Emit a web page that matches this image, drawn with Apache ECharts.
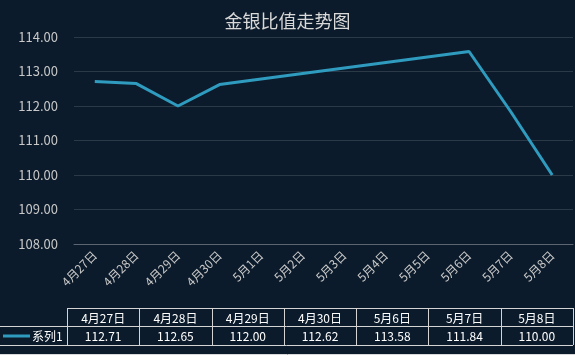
<!DOCTYPE html>
<html lang="zh">
<head>
<meta charset="UTF-8" />
<title>金银比值走势图</title>
</head>
<body>
<style>
* {
  margin: 0;
  padding: 0;
}
body {
  background: #0c1b2b;
}
#chartEl {
  width: 575px;
  height: 355px;
}
</style>
<div id="chartEl"></div>
<script src="https://cdn.jsdelivr.net/npm/echarts@6/dist/echarts.min.js"></script>
<script>
// 数据
const categories = ['4月27日', '4月28日', '4月29日', '4月30日', '5月1日', '5月2日', '5月3日', '5月4日', '5月5日', '5月6日', '5月7日', '5月8日'];
const ratioValues = [112.71, 112.65, 112.00, 112.62, null, null, null, null, null, 113.58, 111.84, 110.00];
const seriesName = '系列1';
const yTicks = [108, 114, 1]; // min, max, interval

const FONT = '"Noto Sans CJK SC", "Noto Sans", sans-serif';
const lineColor = '#2f9bbf';
const W = 575;

// 数据表 (只有有值的日期)
const tableCols = [];
categories.forEach(function (c, i) {
  if (ratioValues[i] != null) tableCols.push({ name: c, value: ratioValues[i].toFixed(2) });
});

function buildTable() {
  const els = [];
  const x0 = 67, x1 = 573;
  const yTop = 308, yMid = 326, yBot = 345;
  const colW = (x1 - x0) / tableCols.length;
  const stroke = { stroke: '#d4d4d4', lineWidth: 1 };
  els.push({ type: 'line', shape: { x1: x0, y1: yTop + 0.5, x2: x1, y2: yTop + 0.5 }, style: stroke, silent: true });
  els.push({ type: 'line', shape: { x1: 0, y1: yMid + 0.5, x2: x1, y2: yMid + 0.5 }, style: stroke, silent: true });
  els.push({ type: 'line', shape: { x1: 0, y1: yBot + 0.5, x2: x1, y2: yBot + 0.5 }, style: stroke, silent: true });
  for (let i = 0; i <= tableCols.length; i++) {
    const x = Math.round(x0 + colW * i) + 0.5;
    els.push({ type: 'line', shape: { x1: x, y1: yTop, x2: x, y2: yBot }, style: stroke, silent: true });
  }
  tableCols.forEach(function (col, i) {
    const cx = x0 + colW * (i + 0.5);
    els.push({ type: 'text', x: cx, y: (yTop + yMid) / 2 + 1, style: { text: col.name, fill: '#ffffff', font: '12px ' + FONT, align: 'center', verticalAlign: 'middle' }, silent: true });
    els.push({ type: 'text', x: cx, y: (yMid + yBot) / 2 + 1, style: { text: col.value, fill: '#ffffff', font: '12px ' + FONT, align: 'center', verticalAlign: 'middle' }, silent: true });
  });
  // 图例键
  els.push({ type: 'line', shape: { x1: 3, y1: 336, x2: 30, y2: 336 }, style: { stroke: lineColor, lineWidth: 3 }, silent: true });
  els.push({ type: 'text', x: 32, y: 336, style: { text: seriesName, fill: '#ffffff', font: '12px ' + FONT, align: 'left', verticalAlign: 'middle' }, silent: true });
  // 外框底线
  els.push({ type: 'line', shape: { x1: 0, y1: 354.5, x2: W, y2: 354.5 }, style: { stroke: '#d9d9d9', lineWidth: 1 }, silent: true });
  return els;
}

const myChart = echarts.init(document.getElementById('chartEl'));
myChart.setOption({
  backgroundColor: '#0c1b2b',
  animation: false,
  textStyle: { fontFamily: FONT },
  title: {
    text: '金银比值走势图',
    left: 'center',
    top: 7,
    textStyle: { color: '#d9d9d9', fontSize: 18, fontWeight: 'normal', fontFamily: FONT },
  },
  grid: { left: 74, right: 2, top: 37, bottom: 111 },
  xAxis: {
    type: 'category',
    data: categories,
    boundaryGap: true,
    axisTick: { show: false },
    axisLine: { lineStyle: { color: '#5b6672', width: 1 } },
    axisLabel: { color: '#c8c8c8', fontSize: 12, rotate: 45, interval: 0, margin: 9, fontFamily: FONT },
  },
  yAxis: {
    type: 'value',
    min: yTicks[0],
    max: yTicks[1],
    interval: yTicks[2],
    axisLine: { show: false },
    axisTick: { show: false },
    axisLabel: {
      color: '#c8c8c8',
      fontSize: 13,
      margin: 16,
      fontFamily: FONT,
      formatter: function (v) { return v.toFixed(2); },
    },
    splitLine: { lineStyle: { color: '#2c3a48', width: 1 } },
  },
  series: [
    {
      name: seriesName,
      type: 'line',
      data: ratioValues,
      connectNulls: true,
      showSymbol: false,
      symbol: 'none',
      lineStyle: { color: lineColor, width: 3 },
    },
  ],
  graphic: buildTable(),
});
</script>
</body>
</html>
